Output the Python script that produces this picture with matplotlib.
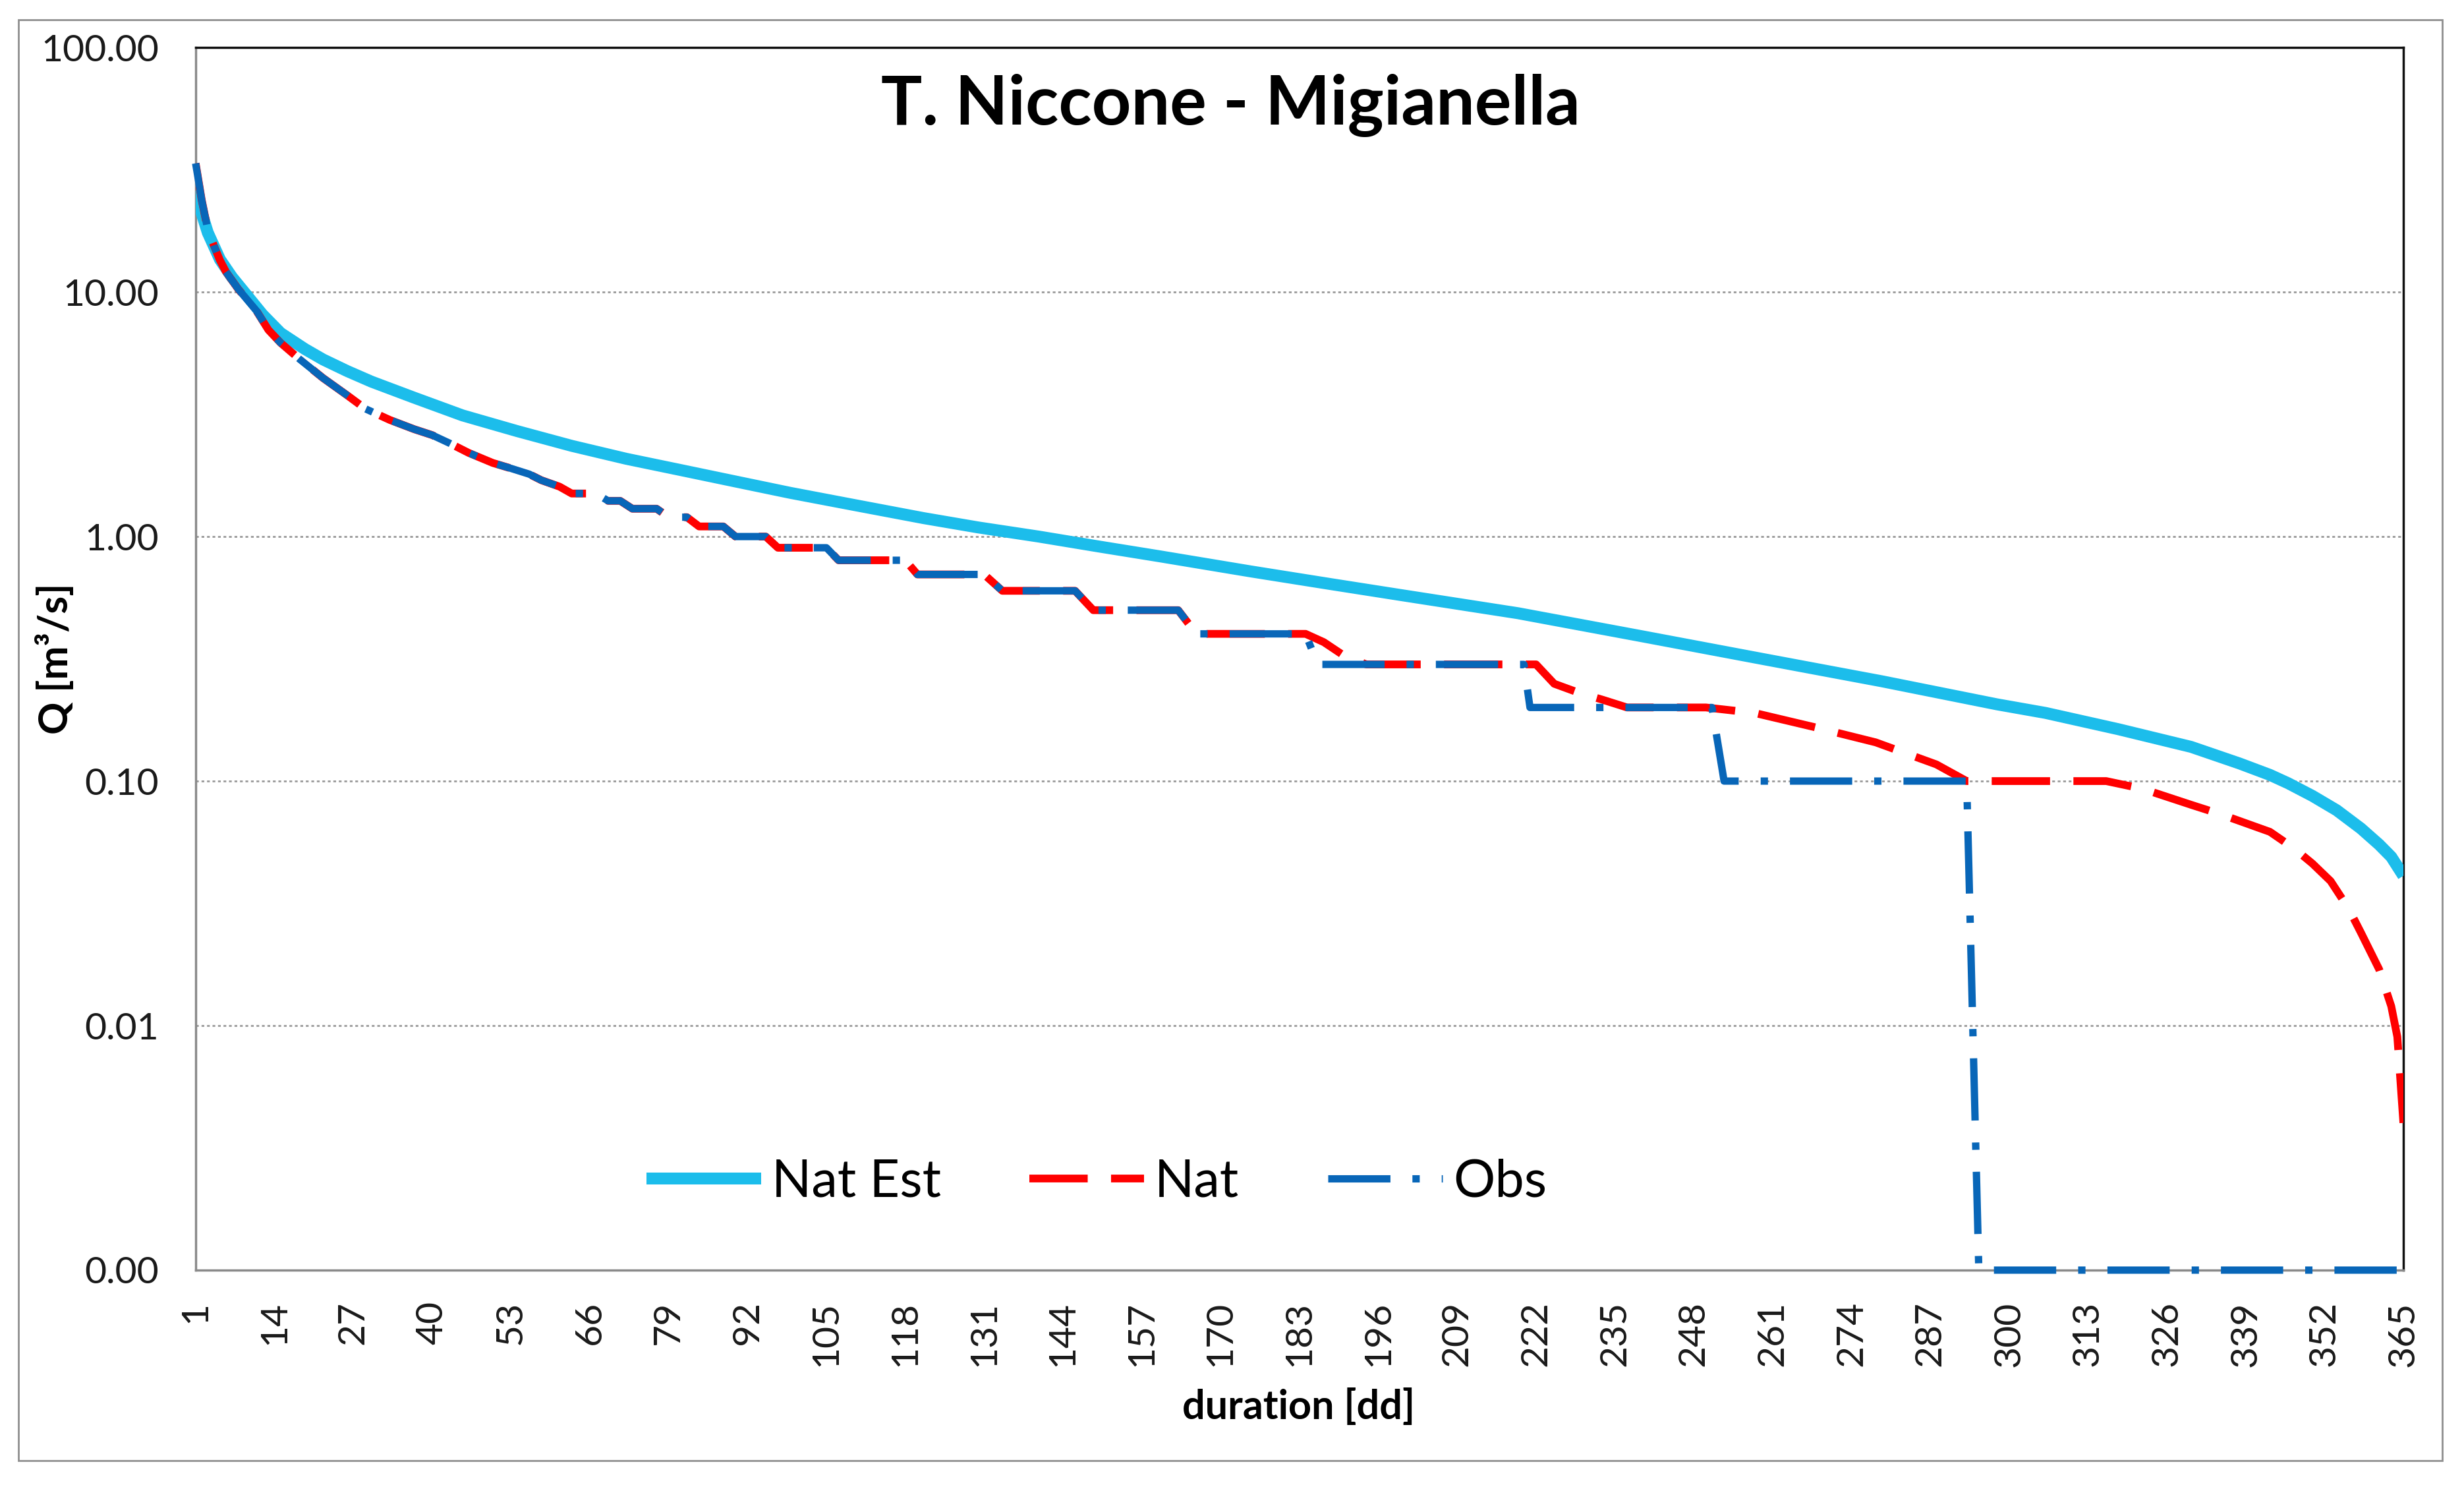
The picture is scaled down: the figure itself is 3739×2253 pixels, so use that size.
import numpy as np
import matplotlib
matplotlib.use("Agg")
import matplotlib.pyplot as plt
from matplotlib.patches import Rectangle
from matplotlib.ticker import FixedLocator, NullLocator

plt.rcParams["font.family"] = ["Lato", "DejaVu Sans"]

# Nat Est: smooth estimated duration curve (day, m3/s)
est_days = [1, 2, 3, 5, 7, 9, 12, 15, 19, 22, 26, 30, 37, 45, 54, 63, 72, 81, 90, 99,
            110, 121, 130, 140, 150, 160, 175, 188, 200, 219, 239, 259, 279, 298,
            306, 318, 330, 338, 343, 346, 350, 354, 358, 361, 363, 365]
est_q = [26, 21, 17.5, 13.6, 11.5, 10.0, 8.1, 6.8, 5.85, 5.3, 4.75, 4.3, 3.7, 3.13,
         2.7, 2.35, 2.08, 1.87, 1.68, 1.51, 1.34, 1.19, 1.09, 1.0, 0.91, 0.83, 0.72,
         0.64, 0.575, 0.486, 0.393, 0.317, 0.256, 0.206, 0.19, 0.163, 0.138, 0.118,
         0.106, 0.098, 0.087, 0.076, 0.064, 0.055, 0.049, 0.041]

# Nat and Obs share the same staircase up to day 184
common_days = [1, 2, 3, 4, 5, 6, 8, 11, 13, 15, 18, 22, 26, 29, 33, 37, 40, 43, 46, 50,
               53, 56, 58, 61, 63, 67, 69, 71, 73, 77, 79, 82, 84, 88, 90, 95, 97, 105,
               107, 118, 120, 131, 134, 146, 149, 163, 166, 184]
common_q = [33.6, 23.8, 18, 15.5, 13.5, 12.1, 10.3, 8.4, 7.0, 6.2, 5.35, 4.45, 3.78,
            3.33, 3.0, 2.75, 2.6, 2.4, 2.2, 2.0, 1.9, 1.8, 1.7, 1.6, 1.5, 1.5, 1.4, 1.4,
            1.3, 1.3, 1.2, 1.2, 1.1, 1.1, 1.0, 1.0, 0.9, 0.9, 0.8, 0.8, 0.7, 0.7, 0.6,
            0.6, 0.5, 0.5, 0.4, 0.4]

nat_tail_days = [187, 190, 194, 222, 225, 229, 233, 237, 250, 258, 268, 278, 288, 293,
                 316, 322, 330, 335, 343, 347, 350, 353, 356, 358, 361, 363, 364, 365]
nat_tail_q = [0.37, 0.33, 0.3, 0.3, 0.25, 0.23, 0.215, 0.2, 0.2, 0.19, 0.166, 0.144,
              0.117, 0.1, 0.1, 0.093, 0.080, 0.073, 0.062, 0.053, 0.046, 0.039, 0.030,
              0.024, 0.017, 0.012, 0.009, 0.004]

# zero flow is drawn on the axis floor (0.001)
obs_tail_days = [186, 220, 221, 251, 253, 293, 295, 365]
obs_tail_q = [0.3, 0.3, 0.2, 0.2, 0.1, 0.1, 0.001, 0.001]

nat_days = common_days + nat_tail_days
nat_q = common_q + nat_tail_q
obs_days = common_days + obs_tail_days
obs_q = common_q + obs_tail_q

fig = plt.figure(figsize=(37.39, 22.53), dpi=100)
ax = fig.add_axes([0.0794, 0.1447, 0.8960, 0.8233])

ax.plot(est_days, est_q, color="#1CBDEB", lw=13, solid_capstyle="butt",
        solid_joinstyle="round", label="Nat Est", zorder=3)
ax.plot(nat_days, nat_q, color="#FF0000", lw=8.5, dashes=(7.5, 3),
        label="Nat", zorder=4)
ax.plot(obs_days, obs_q, color="#0866B8", lw=8, dashes=(8.5, 3, 1, 3),
        label="Obs", zorder=5, clip_on=False)

ax.set_yscale("log")
ax.set_ylim(0.001, 100)
ax.set_xlim(1, 365)
ax.yaxis.set_major_locator(FixedLocator([0.001, 0.01, 0.1, 1, 10, 100]))
ax.yaxis.set_minor_locator(NullLocator())
ax.set_yticklabels(["0.00", "0.01", "0.10", "1.00", "10.00", "100.00"])
ax.set_xticks(np.arange(1, 366, 13))
ax.set_xticklabels([str(v) for v in range(1, 366, 13)], rotation=90)
ax.tick_params(axis="both", length=0, labelsize=41, colors="#1a1a1a")
ax.tick_params(axis="y", pad=40)
ax.tick_params(axis="x", pad=34)

ax.grid(axis="y", which="major", color="#9a9a9a", lw=2, ls=(0, (1.5, 1.5)))
ax.set_axisbelow(True)
for side in ["left", "bottom"]:
    ax.spines[side].set_color("#8a8a8a")
    ax.spines[side].set_linewidth(2.5)
for side in ["top", "right"]:
    ax.spines[side].set_color("#111111")
    ax.spines[side].set_linewidth(2.5)

fig.text(0.4994, 0.929, "T. Niccone - Migianella", ha="center", va="center",
         fontsize=75, fontweight="bold")
fig.text(0.0222, 0.5565, "Q [m\u00b3/s]", rotation=90, ha="center", va="center",
         fontsize=44, fontweight="bold")
fig.text(0.5269, 0.0528, "duration [dd]", ha="center", va="center",
         fontsize=44, fontweight="bold")

fig.legend(loc="center", bbox_to_anchor=(0.445, 0.204), ncol=3, frameon=False,
           fontsize=57, handlelength=2.2, handletextpad=0.2, columnspacing=1.7)

fig.add_artist(Rectangle((0.0075, 0.0164), 0.9837, 0.9702, transform=fig.transFigure,
                         fill=False, edgecolor="#8f8f8f", lw=2))

fig.savefig("out.png", dpi=100, facecolor="white")
